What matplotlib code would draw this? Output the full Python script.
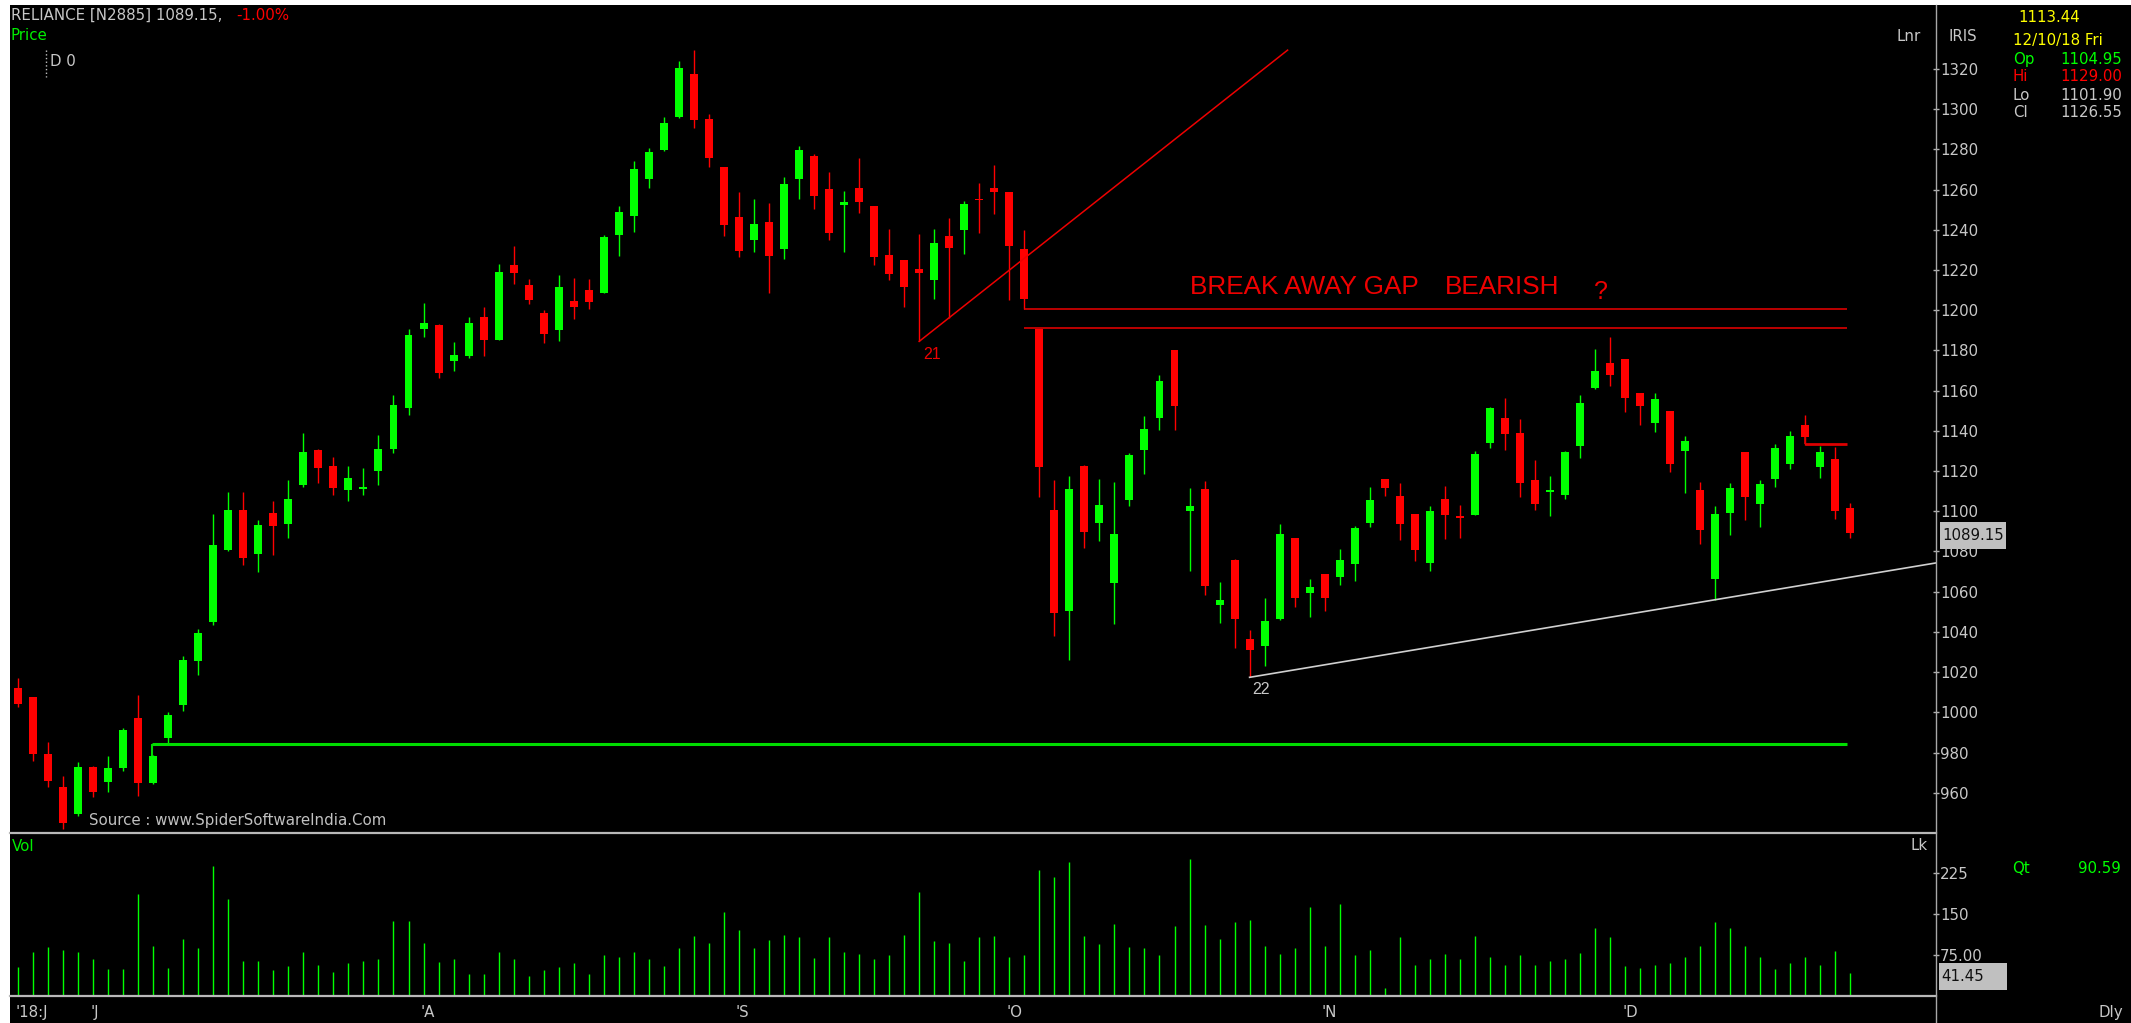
import numpy as np
import matplotlib
matplotlib.use("Agg")
import matplotlib.pyplot as plt
from matplotlib.patches import Rectangle
from matplotlib.lines import Line2D
from matplotlib.transforms import blended_transform_factory

# =========================
# data
# =========================
opens = [1011.9, 1007.4, 979.3, 962.7, 949.2, 972.8, 965.5, 972.3, 997.3, 964.8,
         987.3, 1003.6, 1025.4, 1044.9, 1080.5, 1100.8, 1078.8, 1099.3, 1093.8, 1113.1,
         1130.7, 1122.6, 1110.6, 1111.1, 1120.1, 1130.9, 1151.5, 1190.8, 1192.8, 1175.0,
         1177.0, 1196.6, 1185.3, 1222.4, 1212.4, 1198.6, 1190.3, 1204.6, 1210.1, 1208.6,
         1237.4, 1247.0, 1265.3, 1279.8, 1296.1, 1317.6, 1295.1, 1271.3, 1246.5, 1234.9,
         1243.9, 1230.7, 1265.5, 1276.5, 1260.2, 1252.5, 1260.8, 1252.0, 1227.4, 1224.9,
         1220.4, 1214.9, 1236.7, 1239.7, 1255.5, 1261.0, 1258.7, 1230.4, 1190.8, 1100.6,
         1050.5, 1122.6, 1094.3, 1064.2, 1105.4, 1130.7, 1146.2, 1180.3, 1100.3, 1111.1,
         1053.2, 1075.8, 1036.7, 1033.2, 1046.2, 1086.8, 1059.5, 1068.8, 1067.5, 1074.0,
         1094.3, 1115.9, 1107.4, 1098.8, 1074.5, 1105.9, 1097.6, 1098.3, 1133.9, 1146.5,
         1138.9, 1115.6, 1109.4, 1108.1, 1132.7, 1161.5, 1173.8, 1175.8, 1159.0, 1143.9,
         1149.7, 1130.2, 1110.6, 1066.3, 1099.3, 1129.4, 1103.4, 1116.1, 1123.6, 1142.7,
         1121.9, 1125.9, 1101.4]
highs = [1016.9, 1007.4, 985.3, 968.5, 975.5, 973.2, 978.5, 992.3, 1008.6, 979.0,
         1000.3, 1028.2, 1041.2, 1098.8, 1109.4, 1109.4, 1095.8, 1105.1, 1115.4, 1138.9,
         1130.9, 1126.9, 1122.6, 1121.4, 1137.9, 1157.7, 1190.8, 1203.4, 1193.1, 1184.1,
         1196.6, 1201.6, 1222.9, 1231.9, 1215.4, 1200.3, 1217.6, 1216.1, 1215.4, 1237.4,
         1252.0, 1274.3, 1280.8, 1296.3, 1323.9, 1329.4, 1297.6, 1271.3, 1258.7, 1255.2,
         1253.2, 1266.3, 1281.8, 1277.8, 1268.8, 1259.2, 1275.8, 1252.0, 1240.2, 1224.9,
         1237.9, 1240.2, 1245.7, 1254.2, 1263.2, 1272.3, 1258.7, 1239.9, 1190.8, 1115.4,
         1117.4, 1123.1, 1116.1, 1114.6, 1128.9, 1147.2, 1167.8, 1180.3, 1111.4, 1114.9,
         1064.7, 1076.3, 1040.7, 1057.0, 1093.8, 1086.8, 1066.3, 1068.8, 1081.3, 1092.8,
         1112.1, 1115.9, 1113.9, 1098.8, 1102.6, 1112.6, 1103.1, 1130.2, 1152.0, 1156.5,
         1145.7, 1125.7, 1117.4, 1130.2, 1157.7, 1180.8, 1186.6, 1175.8, 1159.0, 1159.0,
         1149.7, 1137.2, 1114.6, 1102.4, 1113.9, 1129.4, 1115.6, 1133.4, 1139.7, 1147.9,
         1132.7, 1131.9, 1103.9]
lows = [1002.4, 976.0, 962.7, 942.0, 948.5, 957.7, 960.5, 971.0, 958.5, 964.5,
        984.3, 1000.6, 1018.6, 1043.2, 1080.0, 1073.3, 1070.0, 1078.3, 1086.8, 1112.1,
        1113.9, 1108.1, 1105.1, 1108.1, 1112.9, 1128.9, 1147.7, 1186.6, 1166.5, 1169.8,
        1176.0, 1177.3, 1185.0, 1212.9, 1202.9, 1183.6, 1184.8, 1195.8, 1200.8, 1208.4,
        1227.2, 1238.9, 1260.7, 1279.3, 1295.6, 1290.8, 1271.3, 1236.9, 1226.4, 1229.2,
        1208.6, 1225.7, 1255.2, 1250.5, 1234.7, 1229.2, 1248.5, 1222.4, 1214.9, 1201.4,
        1184.5, 1205.4, 1196.1, 1227.9, 1238.2, 1248.0, 1204.9, 1200.8, 1106.9, 1038.2,
        1026.2, 1081.8, 1085.0, 1043.7, 1102.6, 1118.4, 1140.2, 1140.2, 1070.5, 1058.2,
        1044.5, 1032.2, 1017.4, 1022.9, 1046.0, 1052.5, 1047.2, 1050.5, 1063.5, 1065.5,
        1092.3, 1107.4, 1085.5, 1075.5, 1070.5, 1086.3, 1086.8, 1098.0, 1131.4, 1130.7,
        1107.1, 1100.6, 1097.6, 1105.9, 1126.4, 1160.7, 1162.5, 1149.5, 1143.0, 1139.4,
        1119.4, 1108.9, 1083.8, 1056.0, 1088.3, 1095.6, 1092.1, 1112.1, 1121.1, 1133.2,
        1116.4, 1096.3, 1086.8]
closes = [1004.1, 979.3, 966.0, 944.9, 972.8, 960.2, 972.3, 991.1, 964.8, 978.5,
          998.6, 1026.2, 1039.2, 1083.1, 1100.8, 1076.8, 1093.3, 1092.6, 1105.9, 1129.7,
          1121.4, 1111.4, 1116.4, 1111.9, 1130.9, 1153.0, 1187.6, 1193.6, 1169.0, 1177.8,
          1193.6, 1185.1, 1219.1, 1218.4, 1204.9, 1188.3, 1211.6, 1201.4, 1203.9, 1236.4,
          1249.0, 1270.3, 1278.8, 1293.1, 1320.4, 1294.8, 1275.5, 1242.5, 1229.7, 1243.0,
          1226.9, 1262.7, 1279.8, 1257.0, 1238.2, 1253.7, 1254.0, 1226.4, 1217.9, 1211.4,
          1218.4, 1233.4, 1231.2, 1252.7, 1254.7, 1258.7, 1232.2, 1205.4, 1122.1, 1049.2,
          1111.1, 1089.6, 1103.1, 1088.8, 1127.9, 1140.9, 1164.8, 1152.2, 1102.4, 1063.0,
          1056.0, 1046.2, 1031.2, 1045.5, 1088.8, 1057.0, 1062.2, 1056.7, 1075.8, 1091.6,
          1105.6, 1111.4, 1093.8, 1080.5, 1100.3, 1098.3, 1096.8, 1128.4, 1151.2, 1138.2,
          1113.9, 1103.4, 1110.6, 1129.4, 1154.0, 1169.8, 1167.8, 1156.2, 1152.5, 1155.7,
          1123.6, 1134.9, 1090.8, 1098.6, 1111.6, 1107.1, 1113.6, 1131.7, 1137.4, 1136.9,
          1129.4, 1100.1, 1089.15]
volumes = [52.5, 80.0, 90.4, 84.3, 80.0, 67.1, 49.4, 49.4, 186.5, 92.2,
           51.8, 105.1, 87.3, 238.5, 177.9, 64.7, 64.7, 47.0, 54.9, 80.0,
           56.7, 44.5, 59.8, 64.7, 67.1, 138.1, 138.1, 97.1, 62.2, 67.1,
           39.6, 39.6, 80.0, 67.1, 37.2, 47.0, 52.5, 59.8, 39.6, 75.1,
           72.1, 80.0, 67.1, 54.9, 87.9, 110.0, 97.1, 153.4, 120.4, 87.9,
           102.6, 112.4, 107.5, 69.6, 107.5, 80.0, 77.5, 67.1, 75.1, 112.4,
           191.4, 100.2, 97.1, 64.7, 107.5, 110.0, 72.1, 75.1, 231.2, 218.9,
           246.5, 110.0, 95.3, 132.6, 89.8, 87.3, 75.1, 127.7, 251.4, 130.2,
           105.1, 135.1, 140.0, 92.2, 76.9, 87.3, 162.6, 92.2, 168.1, 74.5,
           84.3, 13.9, 107.5, 56.7, 67.1, 76.9, 67.1, 110.0, 72.1, 56.7,
           74.5, 56.7, 64.1, 67.1, 79.4, 125.3, 107.5, 54.9, 51.8, 56.7,
           59.8, 72.1, 92.2, 135.7, 125.3, 92.2, 72.1, 49.4, 59.8, 72.1,
           56.7, 81.9, 41.45]

month_labels = ["'18:J", "'J", "'A", "'S", "'O", "'N", "'D"]
month_idx = [0, 5, 27, 48, 66, 87, 107]

price_ticks = list(range(960, 1321, 20))
vol_ticks = [75, 150, 225]
vol_tick_labels = ["75.00", "150", "225"]

# =========================
# figure / layout (pixels)
# =========================
W, H = 2131, 1023
fig = plt.figure(figsize=(W / 100, H / 100), dpi=100, facecolor="white")


def fx(x):
    return x / W


def fy(y):
    return 1 - y / H


fig.add_artist(Rectangle((fx(10), 0), 1 - fx(10), fy(5), transform=fig.transFigure,
                         facecolor="black", edgecolor="none", zorder=-5))

ax = fig.add_axes([fx(10), fy(833), fx(1936) - fx(10), fy(5) - fy(833)])
axv = fig.add_axes([fx(10), fy(996), fx(1936) - fx(10), fy(833) - fy(996)])

GREEN = "#00ff00"
RED = "#ff0000"
GREY = "#c8c8c8"

n = len(closes)
idx = np.arange(n)
o = np.array(opens)
c = np.array(closes)
hi = np.array(highs)
lo = np.array(lows)
up = c >= o
cols = np.where(up, GREEN, RED)

for a in (ax, axv):
    a.set_facecolor("black")
    a.set_xlim(-0.533, 127.70)
    for s in a.spines.values():
        s.set_visible(False)
    a.set_xticks([])
    a.yaxis.tick_right()
    a.tick_params(axis="y", direction="inout", length=4, width=1, color="#b0b0b0",
                  labelcolor=GREY, labelsize=10.8, pad=1)

# =========================
# candles
# =========================
ax.vlines(idx, lo, hi, colors=cols, lw=1.0, zorder=2)
body_bottom = np.minimum(o, c)
body_h = np.maximum(np.abs(c - o), 0.8)
ax.bar(idx, body_h, bottom=body_bottom, width=0.53, color=cols, zorder=3)
ax.set_ylim(939.96, 1351.84)
ax.set_yticks(price_ticks)

# annotations
ax.plot([60, 84.53], [1184.5, 1329.4], color="#ee0000", lw=1.1, zorder=4)
ax.text(60.83, 1177.8, "21", color="#ee0000", fontsize=11.5, family="Liberation Sans",
        ha="center", va="center")
ax.hlines([1200.8, 1191.3], 66.96, 121.8, color="#ee0000", lw=1.1, zorder=4)
ax.text(78.0, 1207.9, "BREAK AWAY GAP", color="#ee0000", fontsize=18.8,
        family="Liberation Sans", ha="left", va="baseline")
ax.text(95.0, 1207.9, "BEARISH", color="#ee0000", fontsize=18.8,
        family="Liberation Sans", ha="left", va="baseline")
ax.text(105.4, 1205.4, "?", color="#ee0000", fontsize=18,
        family="Liberation Sans", ha="center", va="baseline")

ax.plot([82, 127.7], [1017.4, 1017.4 + 45.7 * 1.2452], color="#d0d0d0", lw=1.2, zorder=4)
ax.text(82.76, 1011.1, "22", color=GREY, fontsize=11.5, family="Liberation Sans",
        ha="center", va="center")

ax.hlines(984.3, 8.94, 121.8, color="#00dd00", lw=2.2, zorder=4)
ax.vlines(8.94, 978.5, 984.3, color="#00dd00", lw=1.5, zorder=4)

ax.hlines(1133.4, 119, 121.8, color="#dd0000", lw=2.0, zorder=4)
ax.vlines(119, 1133.4, 1136.9, color="#dd0000", lw=1.2, zorder=4)

# =========================
# volume
# =========================
axv.vlines(idx, 0, volumes, colors=GREEN, lw=1.0)
axv.set_ylim(-0.2, 299)
axv.set_yticks(vol_ticks)
axv.set_yticklabels(vol_tick_labels)

tr = blended_transform_factory(axv.transData, fig.transFigure)
for lab, i in zip(month_labels, month_idx):
    axv.text(i - 0.2, fy(1012.5), lab, transform=tr, color=GREY, fontsize=10.8,
             ha="left", va="center", clip_on=False)

# =========================
# frame lines
# =========================
fig.add_artist(Line2D([fx(10), fx(1936)], [fy(833), fy(833)], color="#b8b8b8", lw=1.6))
fig.add_artist(Line2D([fx(10), fx(1936)], [fy(996), fy(996)], color="#b8b8b8", lw=1.6))
fig.add_artist(Line2D([fx(1936), fx(1936)], [fy(5), 0], color="#a8a8a8", lw=1.0))
fig.add_artist(Line2D([fx(46.4), fx(46.4)], [fy(50), fy(77)], color="#c0c0c0", lw=1.0,
                      linestyle=":"))

# =========================
# texts
# =========================
def t(x, y, s, color=GREY, **kw):
    fig.text(fx(x), fy(y), s, color=color, fontsize=10.8, ha=kw.pop("ha", "left"),
             va="center", **kw)


t(11, 15.7, "RELIANCE [N2885] 1089.15,")
t(236.5, 15.7, "-1.00%", RED)
t(11, 35.7, "Price", "#00ee00")
t(49.6, 61.7, "D 0")
t(88.6, 820.7, "Source : www.SpiderSoftwareIndia.Com", "#c0c0c0")
t(1896, 36.7, "Lnr")
t(1949, 36.7, "IRIS")
t(2018, 17.7, "1113.44", "#ffff00")
t(2013, 40, "12/10/18 Fri", "#ffff00")
t(2013, 59.3, "Op", GREEN)
t(2060.5, 59.3, "1104.95", GREEN)
t(2013, 76.7, "Hi", RED)
t(2060.5, 76.7, "1129.00", RED)
t(2013, 95, "Lo")
t(2060.5, 95, "1101.90")
t(2013, 112.7, "Cl")
t(2060.5, 112.7, "1126.55")
t(12, 846.7, "Vol", "#00ee00")
t(1911, 845.7, "Lk")
t(2012, 868.3, "Qt", GREEN)
t(2078, 868.3, "90.59", GREEN)
t(2098, 1013, "Dly")

# value boxes on the axis
for (x0, y0, x1, y1, s) in [(1939.6, 522.3, 2006.4, 549, "1089.15"),
                            (1939, 963.3, 2007, 990, "41.45")]:
    fig.add_artist(Rectangle((fx(x0), fy(y1)), fx(x1) - fx(x0), fy(y0) - fy(y1),
                             transform=fig.transFigure, facecolor="#c0c0c0",
                             edgecolor="none", zorder=5))
    fig.text(fx(x0 + 2.5), fy((y0 + y1) / 2), s, color="#101010", fontsize=10.8,
             va="center", ha="left", zorder=6)

fig.savefig("out.png", dpi=100, facecolor=fig.get_facecolor())
